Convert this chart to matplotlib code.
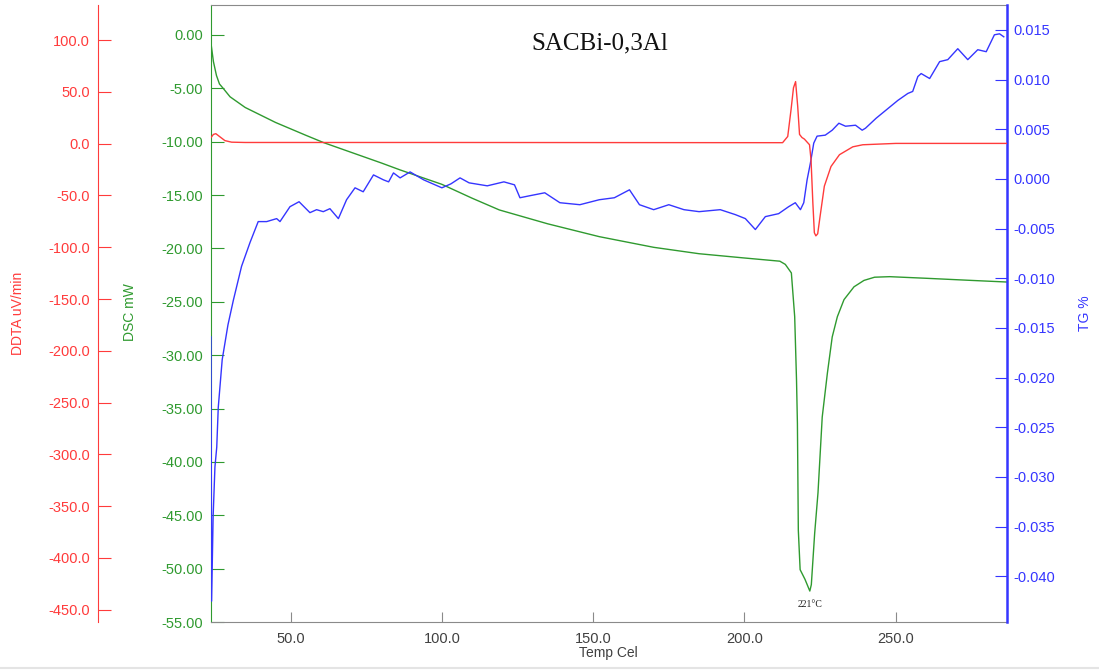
import numpy as np
import matplotlib.pyplot as plt
import matplotlib.ticker as ticker

RED = "#ff3b3b"; GREEN = "#2f9a2f"; BLUE = "#3535ff"; GRAY = "#8a8a8a"; INK = "#404040"

# DSC curve (mW)
dsc_t = [23.7, 24.5, 25.5, 26.5, 27.7, 30, 35, 40, 45, 50, 55, 61, 70, 80, 86.2, 100, 110, 119,
         135, 152, 170, 185, 200, 211.7, 213.5, 215.5, 216.6, 217.2, 217.5, 217.8, 218.4, 220,
         221.6, 222.1, 223.2, 224.3, 225.7, 227.4, 229, 230.7, 232.9, 236.2, 239.5, 243, 248,
         260, 275, 286.6]
dsc_v = [-0.8, -2.5, -3.8, -4.6, -5.0, -5.8, -6.8, -7.5, -8.2, -8.8, -9.4, -10.1, -11.0, -12.0,
         -12.65, -14.0, -15.3, -16.4, -17.7, -18.9, -19.9, -20.5, -20.9, -21.2, -21.5, -22.3,
         -26.4, -32.3, -36.4, -46.4, -50.1, -51.0, -52.1, -51.5, -46.7, -42.9, -35.8, -31.7,
         -28.3, -26.4, -24.8, -23.6, -23.0, -22.7, -22.65, -22.8, -23.0, -23.15]

# DDTA curve (uV/min)
ddta_t = [23.7, 24.5, 25.3, 26.5, 28.3, 30.5, 35, 100, 212.6, 214.3, 215.4, 216.2, 216.9, 217.6,
          218.2, 219.0, 219.8, 221.5, 222.0, 222.6, 223.1, 223.6, 224.2, 225.0, 226.4, 228.6,
          231.4, 235.8, 239.1, 250, 286.6]
ddta_v = [6, 9, 9.7, 7, 3, 1.5, 1.2, 1.2, 1.0, 7, 33, 54, 60, 36, 9, 6, 4.5, -1, -15.5, -57, -86,
          -89, -87, -70, -41, -22, -10.6, -3, -1, 0.3, 0.3]

# TG curve (%)
tg_t = [23.7, 23.9, 24.4, 25.0, 25.6, 26.1, 27.4, 29.3, 31.1, 33.8, 36.6, 39.3, 42.1, 45.4, 46.5,
        49.8, 52.8, 56.4, 58.6, 60.8, 63, 65.8, 68.5, 71.3, 74, 77.4, 80.7, 82.4, 84, 86.2, 89.5,
        94, 100, 103, 106, 109, 115, 120.5, 124, 125.8, 129, 134, 139, 145.6, 152, 157, 162,
        165.3, 170, 175, 180, 185, 192, 197, 200.3, 203.6, 206.9, 211.3, 214.6, 216.8, 218.5,
        219.6, 220.7, 221.8, 222.9, 224, 226.7, 229, 231.2, 233.4, 236.7, 238.9, 240, 243.5,
        246.7, 250.7, 254, 255.6, 257.3, 258.4, 261.2, 264.5, 267.2, 270.5, 273.8, 277.1, 279.9,
        282.6, 284.3, 285.7]
tg_v = [-0.0159, -0.0425, -0.0340, -0.0290, -0.0270, -0.0230, -0.0182, -0.0147, -0.0122, -0.0088,
        -0.0064, -0.0043, -0.0043, -0.0040, -0.0043, -0.0028, -0.0023, -0.0034, -0.0031, -0.0033,
        -0.0030, -0.0040, -0.0021, -0.0009, -0.0013, 0.0004, -0.0001, -0.0003, 0.0006, 0.0001,
        0.0007, -0.0001, -0.0009, -0.0005, 0.0001, -0.0004, -0.0007, -0.0003, -0.0006, -0.0019,
        -0.0017, -0.0014, -0.0024, -0.0026, -0.0021, -0.0019, -0.0011, -0.0026, -0.0031, -0.0026,
        -0.0031, -0.0033, -0.0031, -0.0036, -0.0040, -0.0051, -0.0038, -0.0035, -0.0028, -0.0024,
        -0.0031, -0.0024, -0.0001, 0.0016, 0.0036, 0.0043, 0.0044, 0.0049, 0.0056, 0.0053, 0.0054,
        0.0049, 0.0051, 0.0061, 0.0069, 0.0079, 0.0086, 0.0088, 0.0103, 0.0106, 0.0101, 0.0118,
        0.0120, 0.0131, 0.0120, 0.0130, 0.0128, 0.0145, 0.0146, 0.0143]

x_ticks = [50, 100, 150, 200, 250]
dsc_ticks = np.arange(-55, 1, 5)
ddta_ticks = np.arange(-450, 101, 50)
tg_ticks = np.round(np.arange(-0.040, 0.0151, 0.005), 3)

plt.rcParams.update({"font.family": "Liberation Sans", "font.size": 10.5})

fig = plt.figure(figsize=(10.99, 6.70), dpi=100)
ax = fig.add_axes([211 / 1099, 48 / 670, 795.5 / 1099, 617 / 670])
ax_tg = ax.twinx()
ax_dd = ax.twinx()

# DSC host axis (left, green)
ax.plot(dsc_t, dsc_v, color=GREEN, lw=1.0)
ax.set_xlim(23.7, 286.6)
ax.set_ylim(-55, 2.8)
ax.set_xticks(x_ticks)
ax.xaxis.set_major_formatter(ticker.FormatStrFormatter("%.1f"))
ax.set_yticks(dsc_ticks)
ax.yaxis.set_major_formatter(ticker.FormatStrFormatter("%.2f"))
ax.tick_params(axis="x", direction="in", length=7.2, color=GRAY, labelcolor=INK, pad=7)
ax.tick_params(axis="y", direction="in", length=9.4, color=GREEN, labelcolor=GREEN, pad=6)
ax.spines["left"].set_color(GREEN)
ax.spines["top"].set_color(GRAY)
ax.spines["bottom"].set_color(GRAY)
ax.spines["right"].set_visible(False)

# TG axis (right, blue)
ax_tg.plot(tg_t, tg_v, color=BLUE, lw=1.0)
ax_tg.set_ylim(-0.0446, 0.0175)
ax_tg.set_yticks(tg_ticks)
ax_tg.yaxis.set_major_formatter(ticker.FuncFormatter(lambda v, _: f"{round(v, 4) + 0.0:.3f}"))
ax_tg.tick_params(axis="y", direction="in", length=8.6, color=BLUE, labelcolor=BLUE, pad=5)
for s in ["left", "top", "bottom"]:
    ax_tg.spines[s].set_visible(False)
ax_tg.spines["right"].set_color(BLUE)
ax_tg.spines["right"].set_linewidth(1.8)

# DDTA axis (outer left, red)
ax_dd.plot(ddta_t, ddta_v, color=RED, lw=1.0)
ax_dd.set_ylim(-462, 134)
ax_dd.set_yticks(ddta_ticks)
ax_dd.yaxis.set_major_formatter(ticker.FormatStrFormatter("%.1f"))
ax_dd.yaxis.set_ticks_position("left")
ax_dd.spines["left"].set_position(("outward", 81.4))
ax_dd.spines["left"].set_visible(True)
ax_dd.spines["left"].set_color(RED)
for s in ["right", "top", "bottom"]:
    ax_dd.spines[s].set_visible(False)
ax_dd.tick_params(axis="y", direction="in", length=9.4, color=RED, labelcolor=RED, pad=5.8)

# labels
fig.text(18 / 1099, 1 - 313 / 670, "DDTA uV/min", rotation=90, ha="center", va="center",
         color=RED, fontsize=10)
fig.text(130 / 1099, 1 - 312 / 670, "DSC mW", rotation=90, ha="center", va="center",
         color=GREEN, fontsize=10)
fig.text(1085 / 1099, 1 - 313 / 670, "TG %", rotation=90, ha="center", va="center",
         color=BLUE, fontsize=10)
fig.text(608 / 1099, 1 - 653 / 670, "Temp Cel", ha="center", va="center", color=INK, fontsize=10)

ax.text(600 / 1099, 1 - 43 / 670, "SACBi-0,3Al", transform=fig.transFigure, ha="center",
        va="center", fontsize=18, family="Liberation Serif", color="#111111")
ax.annotate("221\u00b0C", xy=(221.8, -52.1), xytext=(0, -10), textcoords="offset points",
            ha="center", va="center", fontsize=7, family="Liberation Serif", color="#222222")

fig.add_artist(plt.Line2D([0, 1], [2 / 670, 2 / 670], color="#e4e4e4", lw=1.5))

fig.savefig("out.png", dpi=100)
